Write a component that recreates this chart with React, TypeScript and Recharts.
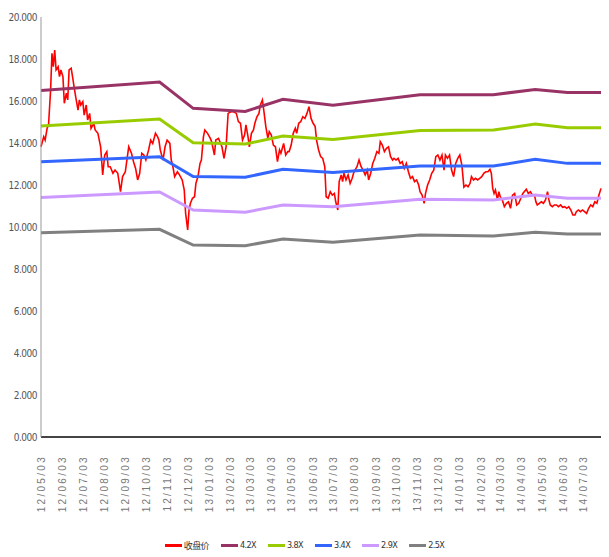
import React from "react";
import { LineChart, Line, XAxis, YAxis, Legend } from "recharts";

const tickLabels = [
  "12/05/03", "12/06/03", "12/07/03", "12/08/03", "12/09/03", "12/10/03", "12/11/03", "12/12/03",
  "13/01/03", "13/02/03", "13/03/03", "13/04/03", "13/05/03", "13/06/03", "13/07/03", "13/08/03",
  "13/09/03", "13/10/03", "13/11/03", "13/12/03", "14/01/03", "14/02/03", "14/03/03", "14/04/03",
  "14/05/03", "14/06/03", "14/07/03",
];
const yTicks = [0, 2, 4, 6, 8, 10, 12, 14, 16, 18, 20];

// days since 2012/05/03
const closeDays = [
  -1, 3, 5, 8, 10, 13, 15, 17, 19, 21, 24, 26, 28, 31, 33, 36, 38, 40, 43, 45, 48, 50, 53, 55, 57, 60, 62, 65, 67, 70,
  72, 76, 78, 82, 86, 89, 92, 95, 97, 100, 104, 107, 111, 115, 118, 122, 125, 127, 131, 134, 137, 140, 143, 146, 149, 152,
  156, 159, 162, 166, 169, 171, 173, 177, 180, 183, 187, 189, 191, 194, 198, 201, 205, 208, 210, 213, 215, 217, 220, 223,
  225, 228, 231, 233, 236, 238, 242, 246, 248, 252, 254, 258, 260, 263, 266, 269, 272, 276, 280, 284, 287, 290, 293, 296,
  298, 301, 303, 306, 309, 311, 314, 317, 319, 322, 324, 327, 330, 332, 335, 338, 341, 344, 347, 349, 353, 356, 359, 361,
  364, 367, 370, 372, 375, 378, 381, 384, 387, 390, 393, 396, 399, 401, 404, 407, 410, 413, 415, 418, 421, 424, 427, 429,
  432, 434, 437, 439, 441, 444, 447, 450, 453, 455, 457, 460, 463, 466, 469, 472, 475, 477, 480, 483, 486, 489, 492, 494,
  497, 500, 503, 506, 509, 512, 514, 517, 520, 523, 526, 529, 532, 535, 538, 541, 544, 547, 550, 552, 555, 558, 560, 563,
  566, 569, 572, 575, 578, 581, 584, 587, 589, 592, 595, 598, 601, 604, 607, 610, 613, 616, 619, 622, 625, 627, 630, 633,
  636, 639, 642, 645, 648, 651, 654, 656, 658, 660, 662, 665, 667, 669, 672, 675, 678, 681, 684, 687, 690, 693, 696, 699,
  702, 704, 707, 710, 713, 716, 719, 721, 723, 726, 729, 732, 735, 738, 740, 742, 745, 748, 751, 754, 757, 760, 763, 766,
  769, 772, 775, 778, 780, 783, 786, 789, 792, 795, 798, 801, 804, 807, 810, 813, 816,
];
const closeValues = [
  13.82, 14.3, 14.14, 14.71, 14.86, 16.52, 18.27, 17.63, 18.43, 17.48, 17.63, 17.16, 17.48, 17.16, 15.89, 16.37, 16.05, 17.48, 17.56, 17.16, 16.52, 16.13, 15.57, 16.05, 15.81, 15.97, 15.33, 15.81, 15.1, 15.41,
  14.7, 14.94, 14.62, 14.46, 13.82, 12.48, 13.43, 13.59, 12.87, 12.87, 12.56, 12.71, 12.56, 11.68, 12.4, 12.63, 13.35, 13.82, 13.51, 13.11, 12.79, 12.24, 12.56, 13.51, 13.43, 13.19,
  13.67, 14.14, 13.98, 14.46, 14.3, 14.14, 13.67, 13.19, 13.82, 14.14, 13.98, 13.19, 12.95, 12.4, 12.63, 12.48, 12.24, 11.76, 10.65, 9.86, 10.81, 11.13, 11.37, 11.44,
  12.08, 12.4, 13.03, 13.19, 14.3, 14.62, 14.46, 14.22, 14.06, 13.43, 14.14, 14.22, 14.06, 13.82, 13.27, 13.82, 15.41, 15.49, 15.49, 15.41, 15.02, 14.94, 14.14, 14.38,
  14.86, 14.3, 13.82, 14.46, 14.62, 14.94, 15.25, 15.41, 15.81, 16.05, 15.57, 14.78, 14.22, 14.54, 14.38, 13.9, 13.82, 13.11, 13.67, 13.51, 13.98, 13.43, 13.59, 13.59,
  13.9, 14.46, 14.7, 14.46, 14.94, 15.02, 15.25, 15.17, 15.41, 15.73, 15.17, 14.94, 14.78, 14.14, 13.67, 13.35, 13.27, 12.87, 11.44, 11.37, 11.68, 11.52, 11.6, 11.2,
  10.81, 12.16, 12.48, 12.16, 12.56, 12.24, 12.48, 12.08, 12.32, 12.56, 12.71, 12.87, 13.19, 12.87, 12.71, 12.48, 12.71, 12.24, 12.56, 13.03, 13.27, 13.59, 13.51, 14.06,
  13.9, 13.59, 13.75, 13.82, 13.35, 13.19, 13.27, 13.19, 13.27, 13.03, 13.11, 12.79, 13.03, 12.63, 12.32, 12.4, 12.16, 12.24, 12.0, 11.68, 11.52, 11.13, 11.6, 12.0,
  12.24, 12.56, 12.71, 13.35, 13.43, 13.19, 13.43, 12.71, 13.43, 13.27, 13.43, 12.71, 12.4, 13.03, 13.27, 13.43, 12.95, 11.9, 12.0, 11.92, 12.08, 12.4, 12.24, 12.32,
  12.24, 12.32, 12.4, 12.56, 12.63, 12.63, 12.75, 12.56, 11.84, 11.6, 11.76, 11.29, 11.68, 11.44, 11.29, 10.97, 11.13, 11.2, 10.89, 11.52, 11.6, 11.05, 11.13, 11.37,
  11.6, 11.68, 11.8, 11.6, 11.68, 11.52, 11.52, 11.2, 11.05, 11.13, 11.2, 11.13, 11.29, 11.68, 11.29, 11.05, 10.97, 11.05, 11.05, 10.97, 11.05, 10.94, 10.97, 10.89,
  10.97, 10.81, 10.57, 10.57, 10.73, 10.81, 10.73, 10.81, 10.73, 10.65, 10.89, 11.05, 10.97, 11.2, 11.13, 11.52, 11.84,
];

const bandDays = [-1, 172, 221, 297, 352, 425, 552, 659, 720, 767, 816];
const band42 = [16.5, 16.9, 15.65, 15.5, 16.08, 15.8, 16.3, 16.3, 16.55, 16.4, 16.4];
const band38 = [14.81, 15.14, 14.01, 13.95, 14.33, 14.17, 14.59, 14.62, 14.9, 14.73, 14.73];
const band34 = [13.11, 13.35, 12.4, 12.37, 12.75, 12.59, 12.9, 12.9, 13.22, 13.03, 13.03];
const band29 = [11.41, 11.67, 10.81, 10.7, 11.05, 10.97, 11.32, 11.29, 11.52, 11.37, 11.37];
const band25 = [9.73, 9.89, 9.14, 9.11, 9.43, 9.27, 9.62, 9.57, 9.75, 9.67, 9.67];

const series = [
  { key: "close", name: "收盘价", color: "#FF0000", width: 1.6 },
  { key: "b42", name: "4.2X", color: "#993366", width: 3 },
  { key: "b38", name: "3.8X", color: "#99CC00", width: 3 },
  { key: "b34", name: "3.4X", color: "#3366FF", width: 3 },
  { key: "b29", name: "2.9X", color: "#CC99FF", width: 3 },
  { key: "b25", name: "2.5X", color: "#808080", width: 3 },
];

const dayOf = (s: string) => {
  const [y, m, d] = s.split("/").map(Number);
  return Math.round((Date.UTC(2000 + y, m - 1, d) - Date.UTC(2012, 4, 3)) / 86400000);
};
const xTicks = tickLabels.map(dayOf);
const labelOf = (t: number) => tickLabels[xTicks.indexOf(t)] ?? "";

const rowMap = new Map<number, any>();
const rowAt = (t: number) => {
  if (!rowMap.has(t)) rowMap.set(t, { t });
  return rowMap.get(t);
};
closeDays.forEach((t, i) => (rowAt(t).close = closeValues[i]));
bandDays.forEach((t, i) => {
  const r = rowAt(t);
  r.b42 = band42[i];
  r.b38 = band38[i];
  r.b34 = band34[i];
  r.b29 = band29[i];
  r.b25 = band25[i];
});
const data = Array.from(rowMap.values()).sort((a, b) => a.t - b.t);

const narrow = "'Liberation Sans Narrow', 'DejaVu Sans Condensed', 'Noto Sans CJK SC', sans-serif";

const XTick = (props: any) => {
  const { x, y, payload } = props;
  return (
    <text
      x={x}
      y={y + 10}
      transform={`rotate(-90, ${x}, ${y + 10})`}
      textAnchor="end"
      dy="0.35em"
      fontSize={10}
      fill="#777"
      letterSpacing="2.3px"
      fontFamily="'Liberation Sans', Arial, sans-serif"
    >
      {labelOf(payload.value)}
    </text>
  );
};

const LegendContent = () => (
  <div
    style={{
      display: "flex",
      justifyContent: "center",
      alignItems: "center",
      height: 24,
      paddingLeft: 20,
      fontSize: 9,
      letterSpacing: "-0.6px",
      fontFamily: narrow,
      color: "#333",
    }}
  >
    {series.map((s) => (
      <span key={s.key} style={{ display: "inline-flex", alignItems: "center", marginRight: 12 }}>
        <span style={{ display: "inline-block", width: 17, height: 3, background: s.color, marginRight: 2 }} />
        {s.name}
      </span>
    ))}
  </div>
);

export default function App() {
  return (
    <div style={{ position: "absolute", left: 0, top: 0, width: 609, height: 557, background: "#fff" }}>
      <LineChart width={609} height={557} data={data} margin={{ top: 17, right: 8, bottom: 0, left: 0 }}>
        <XAxis
          dataKey="t"
          type="number"
          domain={[-1, 816]}
          ticks={xTicks}
          interval={0}
          tick={<XTick />}
          tickLine={false}
          axisLine={{ stroke: "#444", strokeWidth: 2 }}
          height={96}
        />
        <YAxis
          type="number"
          domain={[0, 20]}
          ticks={yTicks}
          interval={0}
          width={41}
          tickLine={false}
          tickSize={4}
          tickMargin={0}
          axisLine={{ stroke: "#999", strokeWidth: 1 }}
          tickFormatter={(v: number) => v.toFixed(3)}
          tick={{ fontSize: 10, fill: "#555", fontFamily: narrow, letterSpacing: "-0.5px" }}
        />
        <Legend verticalAlign="bottom" height={24} content={<LegendContent />} />
        {series.map((s) => (
          <Line
            key={s.key}
            dataKey={s.key}
            name={s.name}
            stroke={s.color}
            strokeWidth={s.width}
            dot={false}
            type="linear"
            connectNulls
            isAnimationActive={false}
          />
        ))}
      </LineChart>
    </div>
  );
}
